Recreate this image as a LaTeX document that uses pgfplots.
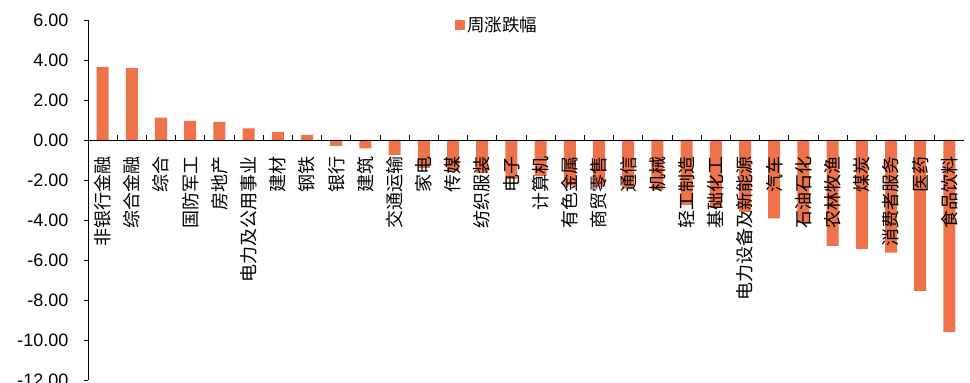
\documentclass[border=0pt]{standalone}
\usepackage{fontspec}
\setmainfont{Liberation Sans}
\newfontfamily\cjk{Noto Sans CJK SC}
\usepackage{pgfplots}
\pgfplotsset{compat=1.18}
\definecolor{barc}{RGB}{238,114,74}
\begin{document}
\begin{tikzpicture}
\begin{axis}[
  at={(88pt,3pt)}, anchor=south west,
  scale only axis, width=876pt, height=360pt,
  xmin=-0.5, xmax=29.5, ymin=-12, ymax=6,
  axis on top,
  axis x line=middle, axis y line=left,
  axis line style={-, black, line width=0.8pt},
  ytick={-12,-10,...,6},
  yticklabel={\pgfmathprintnumber[fixed,fixed zerofill,precision=2,assume math mode=true]{\tick}},
  yticklabel style={font=\fontsize{18}{20}\selectfont, xshift=-12pt},
  ytick align=outside, major tick length=4pt,
  y tick style={black, line width=0.8pt},
  xtick={0,...,29},
  x tick style={draw=none},
  xticklabels={非银行金融,综合金融,综合,国防军工,房地产,电力及公用事业,建材,钢铁,银行,建筑,交通运输,家电,传媒,纺织服装,电子,计算机,有色金属,商贸零售,通信,机械,轻工制造,基础化工,电力设备及新能源,汽车,石油石化,农林牧渔,煤炭,消费者服务,医药,食品饮料},
  xticklabel style={rotate=90, anchor=east, font=\cjk\fontsize{18}{18}\selectfont, inner xsep=12.5pt},
  ybar, bar width=12pt,
  legend style={draw=none, fill=none, at={(0.467,0.986)}, anchor=center, font=\cjk\fontsize{17.5}{17.5}\selectfont},
  legend image code/.code={\fill[barc] (0pt,-5pt) rectangle (10pt,5pt);},
]
\addplot[fill=barc, draw=none] coordinates {
(0,3.65) (1,3.60) (2,1.12) (3,0.95) (4,0.90) (5,0.58) (6,0.40) (7,0.25) (8,-0.30) (9,-0.42)
(10,-0.75) (11,-1.40) (12,-1.55) (13,-1.65) (14,-1.95) (15,-1.80) (16,-2.28) (17,-2.33) (18,-2.42) (19,-2.50)
(20,-3.25) (21,-3.40) (22,-3.60) (23,-3.92) (24,-4.15) (25,-5.30) (26,-5.45) (27,-5.63) (28,-7.55) (29,-9.60)
};
\addlegendentry{周涨跌幅}
\pgfplotsinvokeforeach{-0.5,0.5,...,29.5}{\draw[black, line width=0.8pt] (axis cs:#1,0) -- ++(0pt,5pt);}
\end{axis}
\pgfresetboundingbox
\path (0,0) rectangle (970pt,383pt);
\end{tikzpicture}
\end{document}
